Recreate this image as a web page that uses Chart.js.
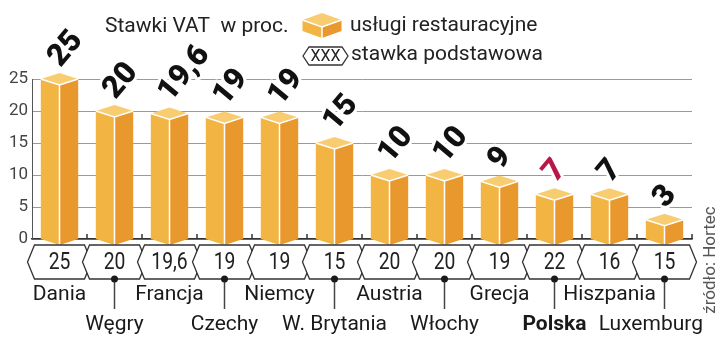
<!DOCTYPE html>
<html lang="pl">
<head>
<meta charset="utf-8">
<script src="https://cdn.jsdelivr.net/npm/chart.js@4"></script>
<style>
  body { margin: 0; background: #fff; }
  #wykres { display: block; }
</style>
</head>
<body>
<canvas id="wykres" width="720" height="363"></canvas>
<script>
// ======= Dane =======
const kraje = ["Dania", "Węgry", "Francja", "Czechy", "Niemcy", "W. Brytania", "Austria", "Włochy", "Grecja", "Polska", "Hiszpania", "Luxemburg"];
const stawkiRestauracje = [25, 20, 19.6, 19, 19, 15, 10, 10, 9, 7, 7, 3];
const stawkiPodstawowe = [25, 20, 19.6, 19, 19, 15, 20, 20, 19, 22, 16, 15];
const ticksY = [0, 5, 10, 15, 20, 25];

const FONT = "Roboto, 'Liberation Sans', sans-serif";
const kolorLewy = "#F2B443";
const kolorPrawy = "#E8982C";
const kolorGora = "#F8CD72";

const fmt = v => String(v).replace(".", ",");

// ======= Rysowanie pomocnicze =======
function pudelko(ctx, x, y, base, half, dy) {
  // lewa sciana
  ctx.fillStyle = kolorLewy;
  ctx.beginPath();
  ctx.moveTo(x - half, y); ctx.lineTo(x, y + dy); ctx.lineTo(x, base + dy); ctx.lineTo(x - half, base);
  ctx.closePath(); ctx.fill();
  // prawa sciana
  ctx.fillStyle = kolorPrawy;
  ctx.beginPath();
  ctx.moveTo(x, y + dy); ctx.lineTo(x + half, y); ctx.lineTo(x + half, base); ctx.lineTo(x, base + dy);
  ctx.closePath(); ctx.fill();
  // gora
  ctx.fillStyle = kolorGora;
  ctx.beginPath();
  ctx.moveTo(x - half, y); ctx.lineTo(x, y - dy); ctx.lineTo(x + half, y); ctx.lineTo(x, y + dy);
  ctx.closePath(); ctx.fill();
  // biale krawedzie
  ctx.strokeStyle = "#fff";
  ctx.lineWidth = 1.5;
  ctx.beginPath();
  ctx.moveTo(x - half, y); ctx.lineTo(x, y + dy); ctx.lineTo(x + half, y);
  ctx.moveTo(x, y + dy); ctx.lineTo(x, base + dy);
  ctx.stroke();
}

function szesciokat(ctx, cx, cy, half, tip, h) {
  ctx.beginPath();
  ctx.moveTo(cx - half, cy);
  ctx.lineTo(cx - half + tip, cy - h);
  ctx.lineTo(cx + half - tip, cy - h);
  ctx.lineTo(cx + half, cy);
  ctx.lineTo(cx + half - tip, cy + h);
  ctx.lineTo(cx - half + tip, cy + h);
  ctx.closePath();
  ctx.fillStyle = "#fff";
  ctx.fill();
  ctx.strokeStyle = "#333";
  ctx.lineWidth = 1.3;
  ctx.stroke();
}

// tekst troche zwezony, jak w oryginale
function tekstWaski(ctx, txt, x, y, skala) {
  ctx.save();
  ctx.translate(x, y);
  ctx.scale(skala, 1);
  ctx.fillText(txt, 0, 0);
  ctx.restore();
}

// ======= Plugin: slupki 3D i opisy =======
const opisy = {
  id: "opisy",
  afterDatasetsDraw(chart) {
    const ctx = chart.ctx;
    const meta = chart.getDatasetMeta(0);
    const xScale = chart.scales.x;
    const base = chart.scales.y.getPixelForValue(0);
    ctx.save();

    // znaczniki miedzy slupkami
    ctx.strokeStyle = "#333";
    ctx.lineWidth = 1.5;
    for (let i = 1; i <= kraje.length; i++) {
      const px = xScale.getPixelForValue(i - 0.5);
      ctx.beginPath();
      ctx.moveTo(px, base); ctx.lineTo(px, base - 5);
      ctx.stroke();
    }

    // slupki
    meta.data.forEach(el => {
      pudelko(ctx, el.x, el.y, base, el.width / 2, 6);
    });

    // wartosci nad slupkami
    meta.data.forEach((el, i) => {
      ctx.save();
      ctx.translate(el.x - 5, el.y - 16);
      ctx.rotate(-50 * Math.PI / 180);
      ctx.font = "900 31px " + FONT;
      ctx.textAlign = "left";
      ctx.textBaseline = "middle";
      ctx.strokeStyle = "#fff";
      ctx.lineWidth = 6;
      ctx.lineJoin = "round";
      ctx.strokeText(fmt(stawkiRestauracje[i]), 0, 0);
      ctx.fillStyle = kraje[i] === "Polska" ? "#B8174A" : "#111";
      ctx.fillText(fmt(stawkiRestauracje[i]), 0, 0);
      ctx.restore();
    });

    // stawki podstawowe w szesciokatach
    meta.data.forEach((el, i) => {
      szesciokat(ctx, el.x, 262, 32, 7, 17);
      ctx.fillStyle = "#222";
      ctx.font = "23px " + FONT;
      ctx.textAlign = "center";
      ctx.textBaseline = "middle";
      tekstWaski(ctx, fmt(stawkiPodstawowe[i]), el.x, 263, 0.84);
    });

    // nazwy krajow
    meta.data.forEach((el, i) => {
      ctx.font = (kraje[i] === "Polska" ? "bold " : "") + "21px " + FONT;
      ctx.fillStyle = "#1a1a1a";
      ctx.textAlign = "center";
      ctx.textBaseline = "middle";
      if (i % 2 === 0) {
        ctx.fillText(kraje[i], el.x, 295);
      } else {
        ctx.strokeStyle = "#444";
        ctx.lineWidth = 1.5;
        ctx.beginPath();
        ctx.moveTo(el.x, 279); ctx.lineTo(el.x, 309);
        ctx.stroke();
        ctx.fillStyle = "#1a1a1a";
        ctx.beginPath();
        ctx.arc(el.x, 279, 3.5, 0, Math.PI * 2);
        ctx.fill();
        const w = ctx.measureText(kraje[i]).width;
        const tx = Math.min(el.x, 703 - w / 2);
        ctx.fillText(kraje[i], tx, 325);
      }
    });

    // tytul i legenda
    ctx.fillStyle = "#222";
    ctx.font = "21px " + FONT;
    ctx.textAlign = "left";
    ctx.textBaseline = "middle";
    ctx.fillText("Stawki VAT  w proc.", 105, 27);
    pudelko(ctx, 322, 20, 31, 19.5, 7);
    ctx.fillStyle = "#222";
    ctx.fillText("usługi restauracyjne", 350, 26);
    szesciokat(ctx, 325.5, 56, 22.5, 6, 9);
    ctx.fillStyle = "#222";
    ctx.font = "16px " + FONT;
    ctx.textAlign = "center";
    ctx.fillText("XXX", 325.5, 57);
    ctx.font = "21px " + FONT;
    ctx.textAlign = "left";
    ctx.fillText("stawka podstawowa", 351, 55);

    // zrodlo
    ctx.save();
    ctx.translate(711, 260);
    ctx.rotate(-Math.PI / 2);
    ctx.font = "17px " + FONT;
    ctx.fillStyle = "#555";
    ctx.textAlign = "center";
    ctx.textBaseline = "middle";
    ctx.fillText("źródło: Hortec", 0, 0);
    ctx.restore();

    ctx.restore();
  }
};

// ======= Wykres =======
new Chart(document.getElementById("wykres"), {
  type: "bar",
  data: {
    labels: kraje,
    datasets: [{
      label: "usługi restauracyjne",
      data: stawkiRestauracje,
      backgroundColor: "rgba(0,0,0,0)",
      borderWidth: 0,
      barPercentage: 0.68,
      categoryPercentage: 1
    }]
  },
  options: {
    responsive: false,
    devicePixelRatio: 1,
    animation: false,
    layout: { padding: { top: 79, bottom: 124, left: 0, right: 28 } },
    plugins: { legend: { display: false }, tooltip: { enabled: false }, title: { display: false } },
    scales: {
      x: {
        grid: { display: false, drawTicks: false },
        ticks: { display: false },
        border: { display: true, color: "#333", width: 1.5 },
        afterFit: s => { s.height = 0; }
      },
      y: {
        min: 0,
        max: 25,
        afterFit: s => { s.width = 32; },
        afterBuildTicks: s => { s.ticks = ticksY.map(v => ({ value: v })); },
        grid: { color: "#9a9a9a", lineWidth: 1, drawTicks: false },
        border: { display: true, color: "#555", width: 1 },
        ticks: { color: "#444", font: { family: FONT, size: 17 }, padding: 4 }
      }
    }
  },
  plugins: [opisy]
});
</script>
</body>
</html>
